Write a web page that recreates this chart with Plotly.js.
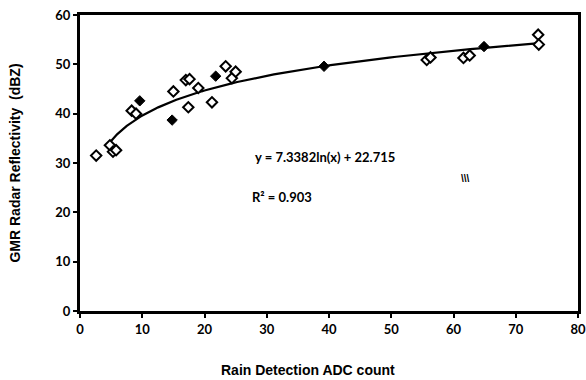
<!DOCTYPE html>
<html>
<head>
<meta charset="utf-8">
<script src="https://cdn.plot.ly/plotly-3.0.1.min.js"></script>
<style>html,body{margin:0;padding:0;background:#fff;}#chart{width:586px;height:380px;}</style>
</head>
<body>
<div id="chart"></div>
<script>
// Open diamond observations
const openX = [2.6, 4.8, 5.3, 5.8, 8.3, 9.0, 15.0, 17.0, 17.6, 17.4, 19.0, 21.2, 23.4, 24.4, 25.0, 55.7, 56.3, 61.6, 62.6, 73.6, 73.7];
const openY = [31.5, 33.6, 32.3, 32.6, 40.6, 40.0, 44.5, 46.8, 47.0, 41.3, 45.2, 42.3, 49.6, 47.2, 48.5, 50.9, 51.4, 51.3, 51.8, 56.0, 54.0];
// Filled diamond observations
const filledX = [9.6, 14.8, 21.8, 39.2, 64.9];
const filledY = [42.6, 38.7, 47.6, 49.6, 53.6];
// Logarithmic trendline y = a ln(x) + b, drawn over the span seen in the picture
const trendA = 7.3382;
const trendB = 22.715;
const trendXMin = 4.5;
const trendXMax = 73.8;
const xTicks = [0, 10, 20, 30, 40, 50, 60, 70, 80];
const yTicks = [0, 10, 20, 30, 40, 50, 60];
const eqText = "y = 7.3382ln(x) + 22.715";
const r2Text = "R\u00b2 = 0.903";
const xTitle = "Rain Detection ADC count";
const yTitle = "GMR Radar Reflectivity  (dBZ)";

const trendX = [];
const trendY = [];
const n = 120;
for (let i = 0; i <= n; i++) {
  const x = trendXMin * Math.pow(trendXMax / trendXMin, i / n);
  trendX.push(x);
  trendY.push(trendA * Math.log(x) + trendB);
}

const tickFont = {family: "Lato, 'Open Sans', sans-serif", size: 13, color: "#000", weight: "bold"};
const titleFont = {family: "'Liberation Sans', Arial, sans-serif", size: 14, color: "#000", weight: "bold"};
const noteFont = {family: "Lato, 'Open Sans', sans-serif", size: 13, color: "#000", weight: "bold"};

const data = [
  {x: trendX, y: trendY, mode: "lines", line: {color: "#000", width: 2.2}, hoverinfo: "skip", showlegend: false},
  {x: openX, y: openY, mode: "markers", showlegend: false,
   marker: {symbol: "diamond", size: 8, color: "#fff", line: {color: "#000", width: 2}}},
  {x: filledX, y: filledY, mode: "markers", showlegend: false,
   marker: {symbol: "diamond", size: 8, color: "#000", line: {color: "#000", width: 1}}}
];

const layout = {
  width: 586, height: 380,
  margin: {l: 80, r: 8, t: 15, b: 69},
  paper_bgcolor: "#fff", plot_bgcolor: "#fff",
  showlegend: false,
  xaxis: {
    range: [0, 80], tickvals: xTicks, ticktext: xTicks.map(String),
    showgrid: false, zeroline: false,
    showline: true, linecolor: "#000", linewidth: 3, mirror: true,
    ticks: "outside", ticklen: 4, tickwidth: 2, tickcolor: "#000",
    tickfont: tickFont
  },
  yaxis: {
    range: [0, 60], tickvals: yTicks, ticktext: yTicks.map(String),
    showgrid: false, zeroline: false,
    showline: true, linecolor: "#000", linewidth: 3, mirror: true,
    ticks: "outside", ticklen: 4, tickwidth: 2, tickcolor: "#000",
    tickfont: tickFont,
    title: {text: yTitle, font: titleFont, standoff: 32}
  },
  annotations: [
    {x: 0.458, y: -0.2, xref: "paper", yref: "paper", text: xTitle, showarrow: false,
     xanchor: "center", yanchor: "middle", font: titleFont},
    {x: 39.4, y: 31.3, xref: "x", yref: "y", text: eqText, showarrow: false, font: noteFont},
    {x: 32.4, y: 23.2, xref: "x", yref: "y", text: r2Text, showarrow: false, font: noteFont},
    {x: 62.0, y: 26.8, xref: "x", yref: "y", text: "\\\\\\", showarrow: false,
     font: {family: "'Liberation Sans', Arial, sans-serif", size: 10, color: "#000", weight: "bold"}}
  ]
};

Plotly.newPlot("chart", data, layout, {displayModeBar: false, staticPlot: true});
</script>
</body>
</html>
